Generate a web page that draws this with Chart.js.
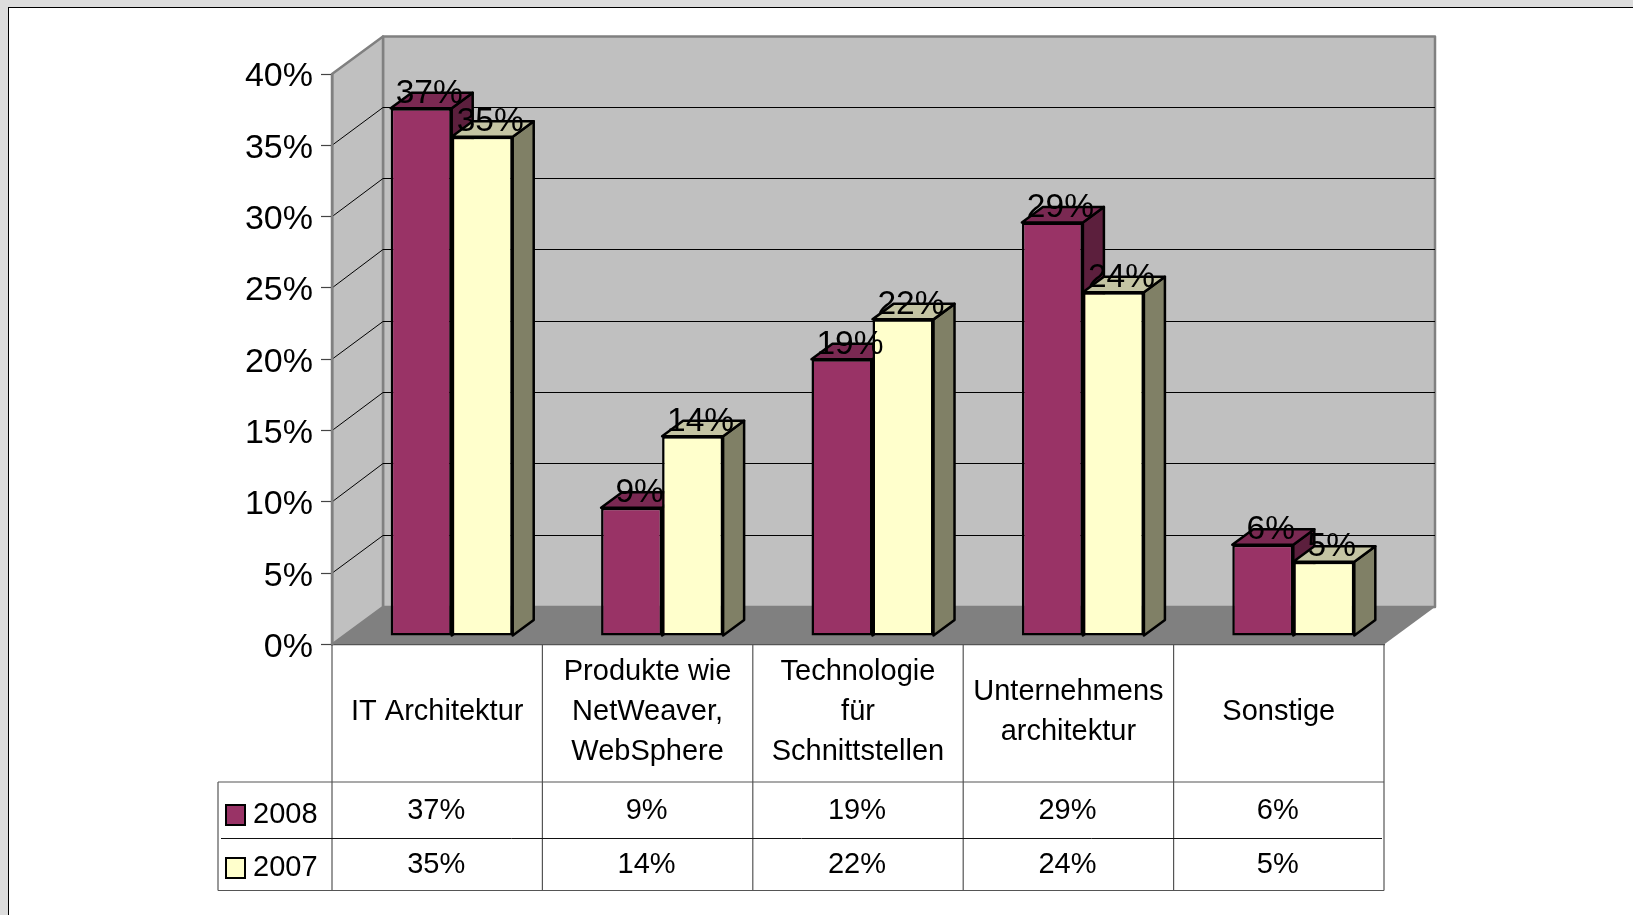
<!DOCTYPE html>
<html>
<head>
<meta charset="utf-8">
<style>
  html, body { margin: 0; padding: 0; background: #dddddd; overflow: hidden; }
  #sheet { position: absolute; left: 8px; top: 7px; width: 1700px; height: 1000px; background: #fff; border: 1px solid #000; }
  #chart { position: absolute; left: 0; top: 0; }
</style>
<script src="https://cdn.jsdelivr.net/npm/chart.js@4"></script>
</head>
<body>
<div id="sheet"></div>
<canvas id="chart" width="1633" height="915"></canvas>
<script>
const categories = [
  'IT Architektur',
  ['Produkte wie', 'NetWeaver,', 'WebSphere'],
  ['Technologie', 'für', 'Schnittstellen'],
  ['Unternehmens', 'architektur'],
  'Sonstige'
];
const seriesNames = ['2008', '2007'];
// bar heights, labels show them rounded
const values2008 = [37, 9, 19.4, 29, 6.4];
const values2007 = [35, 14, 22.2, 24.1, 5.2];

const FONT = '"Liberation Sans", Arial, sans-serif';
const front = ['#993366', '#ffffcc'];
const topFace = ['#7a2952', '#c4c4a3'];
const sideFace = ['#5c1f3d', '#808066'];

// depth of the box and of the bars, px
const WALL_DX = 51, WALL_DY = 37.5;
const BAR_SHIFT_X = 14.5, BAR_SHIFT_Y = 8.5;
const BAR_DX = 21, BAR_DY = 15.5;

function poly(ctx, pts, fill, stroke, lw) {
  ctx.beginPath();
  pts.forEach((p, i) => i ? ctx.lineTo(p[0], p[1]) : ctx.moveTo(p[0], p[1]));
  ctx.closePath();
  ctx.fillStyle = fill;
  ctx.fill();
  if (stroke) {
    ctx.strokeStyle = stroke;
    ctx.lineWidth = lw;
    ctx.lineJoin = 'round';
    ctx.stroke();
  }
}

function line(ctx, x1, y1, x2, y2, color, lw) {
  ctx.beginPath();
  ctx.moveTo(x1, y1);
  ctx.lineTo(x2, y2);
  ctx.strokeStyle = color;
  ctx.lineWidth = lw;
  ctx.stroke();
}

// back wall, side wall, floor and the gridlines on them
const wallsPlugin = {
  id: 'walls',
  beforeDraw(chart) {
    const { ctx, chartArea: a, scales } = chart;
    const y = scales.y;
    ctx.save();
    poly(ctx, [[a.left + WALL_DX, a.top - WALL_DY], [a.right + WALL_DX, a.top - WALL_DY],
      [a.right + WALL_DX, a.bottom - WALL_DY], [a.left + WALL_DX, a.bottom - WALL_DY]], '#c0c0c0', '#808080', 2.5);
    poly(ctx, [[a.left, a.top], [a.left + WALL_DX, a.top - WALL_DY],
      [a.left + WALL_DX, a.bottom - WALL_DY], [a.left, a.bottom]], '#c0c0c0', '#808080', 2.5);
    poly(ctx, [[a.left, a.bottom], [a.right, a.bottom],
      [a.right + WALL_DX, a.bottom - WALL_DY], [a.left + WALL_DX, a.bottom - WALL_DY]], '#808080');
    y.ticks.forEach(t => {
      if (t.value === 0 || t.value === 40) return;
      const py = y.getPixelForValue(t.value);
      const back = Math.round(py - WALL_DY) - 0.5;
      line(ctx, a.left, py, a.left + WALL_DX, back, '#000', 1);
      line(ctx, a.left + WALL_DX, back, a.right + WALL_DX, back, '#000', 1);
    });
    ctx.restore();
  }
};

// side and top faces come from the bar elements, fronts are drawn by Chart.js
const boxPlugin = {
  id: 'box',
  beforeDatasetsDraw(chart) {
    const ctx = chart.ctx;
    ctx.save();
    ctx.translate(BAR_SHIFT_X, -BAR_SHIFT_Y);
    [0, 1].forEach(ds => {
      chart.getDatasetMeta(ds).data.forEach(bar => {
        const l = bar.x - bar.width / 2, r = bar.x + bar.width / 2;
        poly(ctx, [[r, bar.y], [r + BAR_DX, bar.y - BAR_DY], [r + BAR_DX, bar.base - BAR_DY], [r, bar.base]],
          sideFace[ds], '#000', 2.5);
        poly(ctx, [[l, bar.y], [l + BAR_DX, bar.y - BAR_DY], [r + BAR_DX, bar.y - BAR_DY], [r, bar.y]],
          topFace[ds], '#000', 2.5);
      });
    });
  },
  afterDatasetsDraw(chart) {
    const ctx = chart.ctx;
    ctx.font = '33.5px ' + FONT;
    ctx.fillStyle = '#000';
    ctx.textAlign = 'center';
    ctx.textBaseline = 'middle';
    [0, 1].forEach(ds => {
      chart.getDatasetMeta(ds).data.forEach((bar, i) => {
        ctx.fillText(Math.round(chart.data.datasets[ds].data[i]) + '%', bar.x + 8, bar.y - 15);
      });
    });
    ctx.restore();
  }
};

// data table below the chart
const tablePlugin = {
  id: 'table',
  afterDraw(chart) {
    const { ctx, chartArea: a, scales } = chart;
    const x = scales.x;
    const rowTop = a.bottom, row1 = 782, row2 = 838.5, rowEnd = 890.5, tableLeft = 218;
    const cell = (a.right - a.left) / categories.length;
    ctx.save();
    for (let i = 0; i <= categories.length; i++) {
      const px = a.left + cell * i;
      line(ctx, px, rowTop, px, rowEnd, '#555', 1.2);
    }
    line(ctx, tableLeft, row1, tableLeft, rowEnd, '#555', 1.2);
    line(ctx, tableLeft, row1, a.right, row1, '#555', 1.2);
    line(ctx, tableLeft + 3, row2, a.right - 2, row2, '#111', 1);
    line(ctx, tableLeft, rowEnd, a.right, rowEnd, '#555', 1.2);

    ctx.font = '29px ' + FONT;
    ctx.fillStyle = '#000';
    ctx.textBaseline = 'middle';
    [0, 1].forEach(ds => {
      const swatchY = ds === 0 ? 805 : 858;
      const nameY = ds === 0 ? 815 : 868;
      const valueY = ds === 0 ? 811 : 865;
      ctx.fillStyle = front[ds];
      ctx.strokeStyle = '#000';
      ctx.lineWidth = 2;
      ctx.fillRect(226, swatchY, 19, 20);
      ctx.strokeRect(226, swatchY, 19, 20);
      ctx.fillStyle = '#000';
      ctx.textAlign = 'left';
      ctx.fillText(seriesNames[ds], 253, nameY);
      ctx.textAlign = 'center';
      chart.data.datasets[ds].data.forEach((v, i) => {
        ctx.fillText(Math.round(v) + '%', x.getPixelForValue(i) - 1, valueY);
      });
    });
    ctx.restore();
  }
};

new Chart(document.getElementById('chart'), {
  type: 'bar',
  data: {
    labels: categories,
    datasets: [values2008, values2007].map((vals, i) => ({
      label: seriesNames[i],
      data: vals,
      backgroundColor: front[i],
      borderColor: '#000',
      borderWidth: 2.5,
      borderSkipped: false,
      categoryPercentage: 0.58,
      barPercentage: 1,
      clip: false
    }))
  },
  options: {
    responsive: false,
    animation: false,
    devicePixelRatio: 1,
    layout: { padding: { top: 74, left: 0, right: 249, bottom: 0 } },
    plugins: { legend: { display: false }, tooltip: { enabled: false } },
    scales: {
      x: {
        grid: { display: false },
        border: { color: '#555', width: 1.2 },
        afterFit(scale) { scale.height = 270.5; },
        ticks: {
          color: '#000',
          padding: 19,
          maxRotation: 0,
          autoSkip: false,
          crossAlign: 'center',
          font: { family: FONT, size: 29, lineHeight: 1.38 }
        }
      },
      y: {
        min: 0,
        max: 40,
        afterFit(scale) { scale.width = 332; },
        grid: { drawOnChartArea: false, tickLength: 11, tickColor: '#444', tickWidth: 1.2 },
        border: { color: '#808080', width: 2.5 },
        ticks: {
          stepSize: 5,
          color: '#000',
          padding: 8,
          // empty first line pushes the label down a little, as in the original
          font: { family: FONT, size: 34, lineHeight: 0.18 },
          callback: v => ['', v + '%']
        }
      }
    }
  },
  plugins: [wallsPlugin, boxPlugin, tablePlugin]
});
</script>
</body>
</html>
